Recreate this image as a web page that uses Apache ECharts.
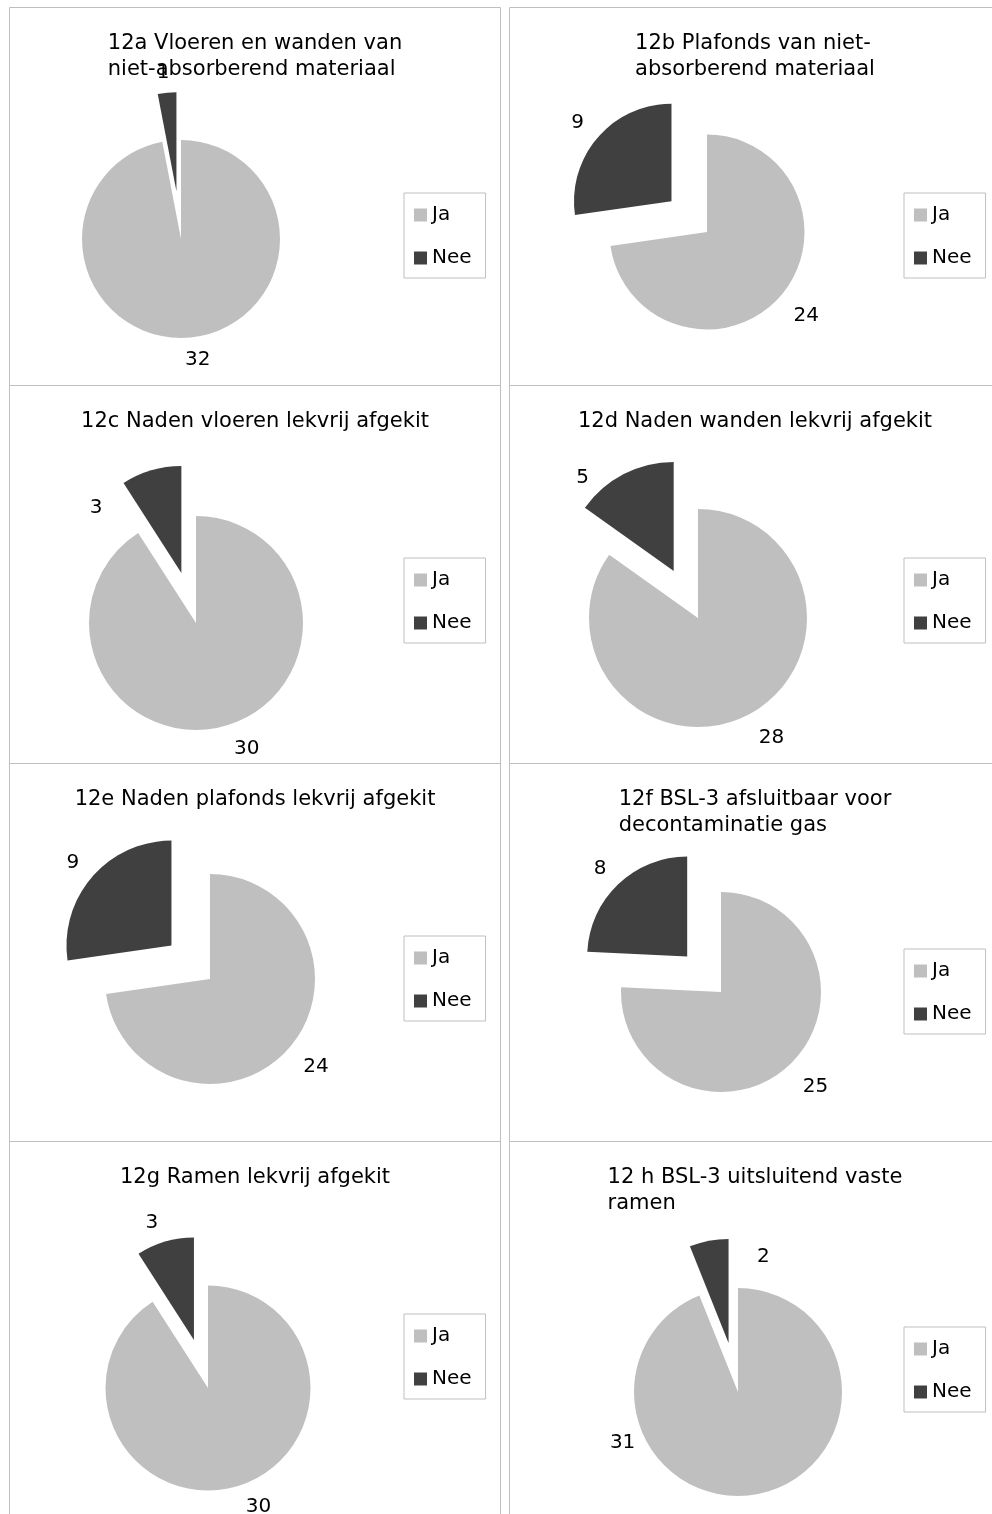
<!DOCTYPE html>
<html>
<head>
<meta charset="utf-8">
<script src="https://cdn.jsdelivr.net/npm/echarts@6/dist/echarts.min.js"></script>
<style>
html, body { margin: 0; padding: 0; width: 992px; height: 1514px; overflow: hidden; background: #ffffff; }
.chart { position: absolute; width: 492px; height: 379px; }
</style>
</head>
<body>
<div id="panels"></div>
<script>
// 数据
const titles = [
  '12a Vloeren en wanden van\nniet-absorberend materiaal',
  '12b Plafonds van niet-\nabsorberend materiaal',
  '12c Naden vloeren lekvrij afgekit',
  '12d Naden wanden lekvrij afgekit',
  '12e Naden plafonds lekvrij afgekit',
  '12f BSL-3 afsluitbaar voor\ndecontaminatie gas',
  '12g Ramen lekvrij afgekit',
  '12 h BSL-3 uitsluitend vaste\nramen'
]
const categories = ['Ja', 'Nee']
const jaValues = [32, 24, 30, 28, 24, 25, 30, 31]
const neeValues = [1, 9, 3, 5, 9, 8, 3, 2]

// 布局（每个面板内的像素位置）
const pieCenters = [[172, 232], [198, 225], [187, 238], [189, 233], [201, 216], [212, 229], [199, 247], [229, 251]]
const pieRadius = [99, 97.5, 107, 109, 105, 100, 102.5, 104]
const legendTops = [186, 186, 173, 173, 173, 186, 173, 186]
// 标签微调 [Ja dx, Ja dy, Nee dx, Nee dy]
const labelNudge = [
  [-12, 5, 9, -3],
  [-5, 9, 4, -3],
  [-2, 7, -39, 54],
  [-2, 8, -22, 19],
  [-4, 8, 5, -3],
  [-4, 10, 5, -3],
  [-1, 4, 3, -3],
  [-156, -68, 69, 33]
]
const colors = ['#bfbfbf', '#404040']
const font = 'DejaVu Sans'

const wrap = document.getElementById('panels')
titles.forEach((title, i) => {
  const col = i % 2
  const row = Math.floor(i / 2)
  const el = document.createElement('div')
  el.className = 'chart'
  el.style.left = (col ? 509 : 9) + 'px'
  el.style.top = (7 + 378 * row) + 'px'
  wrap.appendChild(el)

  const myChart = echarts.init(el)
  const r = pieRadius[i]
  const nudge = labelNudge[i]
  myChart.setOption({
    animation: false,
    color: colors,
    // 面板边框
    graphic: [{
      type: 'rect',
      silent: true,
      z: -10,
      shape: { x: 0.5, y: 0.5, width: 491, height: 378 },
      style: { fill: 'none', stroke: '#bfbfbf', lineWidth: 1 }
    }],
    title: {
      text: title,
      left: 'center',
      top: 24,
      padding: 0,
      textAlign: 'left',
      textStyle: { fontFamily: font, fontSize: 21, fontWeight: 'normal', color: '#000', lineHeight: 26 }
    },
    legend: {
      orient: 'vertical',
      left: 395,
      top: legendTops[i],
      data: categories,
      icon: 'rect',
      itemWidth: 13,
      itemHeight: 13,
      itemGap: 23,
      padding: [12, 14, 10, 10],
      borderColor: '#bfbfbf',
      borderWidth: 1,
      selectedMode: false,
      textStyle: { fontFamily: font, fontSize: 20, color: '#000' }
    },
    series: [{
      type: 'pie',
      center: pieCenters[i],
      radius: r,
      startAngle: 90,
      clockwise: true,
      selectedMode: 'single',
      selectedOffset: Math.round(r * 0.485),
      avoidLabelOverlap: false,
      itemStyle: { borderWidth: 0 },
      emphasis: { disabled: true },
      label: {
        show: true,
        position: 'outside',
        formatter: '{c}',
        fontFamily: font,
        fontSize: 20,
        color: '#000',
        distanceToLabelLine: 5
      },
      labelLine: { show: false, length: 17, length2: 0 },
      labelLayout: (params) => {
        const k = params.dataIndex * 2
        return { dx: nudge[k], dy: nudge[k + 1] }
      },
      data: [
        { name: categories[0], value: jaValues[i] },
        { name: categories[1], value: neeValues[i], selected: true }
      ]
    }]
  })
})
</script>
</body>
</html>
